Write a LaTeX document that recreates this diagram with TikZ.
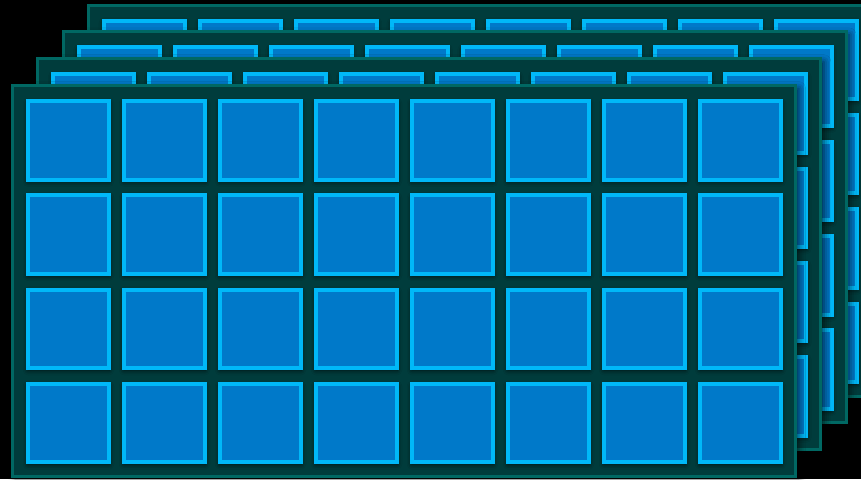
\documentclass[tikz,border=0pt]{standalone}
\usetikzlibrary{shadows.blur}
\definecolor{bgblack}{HTML}{000000}
\definecolor{panelfill}{HTML}{003C3C}
\definecolor{panelline}{HTML}{006863}
\definecolor{cellfill}{HTML}{0079C9}
\definecolor{cellline}{HTML}{00B8F8}
\tikzset{
  panelbox/.style={fill=panelfill, draw=panelline, line width=3pt,
    blur shadow={shadow xshift=3pt, shadow yshift=-3pt, shadow blur radius=7pt, shadow opacity=70}},
  cellbox/.style={fill=cellfill, draw=cellline, line width=4pt,
    blur shadow={shadow xshift=0pt, shadow yshift=-2pt, shadow blur radius=5pt, shadow opacity=75}}
}
\begin{document}
\begin{tikzpicture}[x=1pt,y=-1pt]
\fill[bgblack] (0,0) rectangle (861,479);
\useasboundingbox (0,0) rectangle (861,479);
\clip (0,0) rectangle (861,479);
\foreach \k in {3,2,1,0}{
  \pgfmathsetmacro{\ox}{11+25.3*\k}
  \pgfmathsetmacro{\oy}{84-26.8*\k}
  \begin{scope}[shift={(\ox,\oy)}]
    \path[panelbox] (1.5,1.5) coordinate (pa\k) rectangle (784.5,392.5) coordinate (pb\k);
    \foreach \c in {0,...,7}{
      \foreach \r in {0,...,3}{
        \pgfmathsetmacro{\cx}{15+96*\c+2}
        \pgfmathsetmacro{\cy}{15+94.3*\r+2}
        \path[cellbox] (\cx,\cy) coordinate (ca\k\c\r) rectangle ++(81,78.5) coordinate (cb\k\c\r);
      }
    }
  \end{scope}
}
\end{tikzpicture}
\end{document}
